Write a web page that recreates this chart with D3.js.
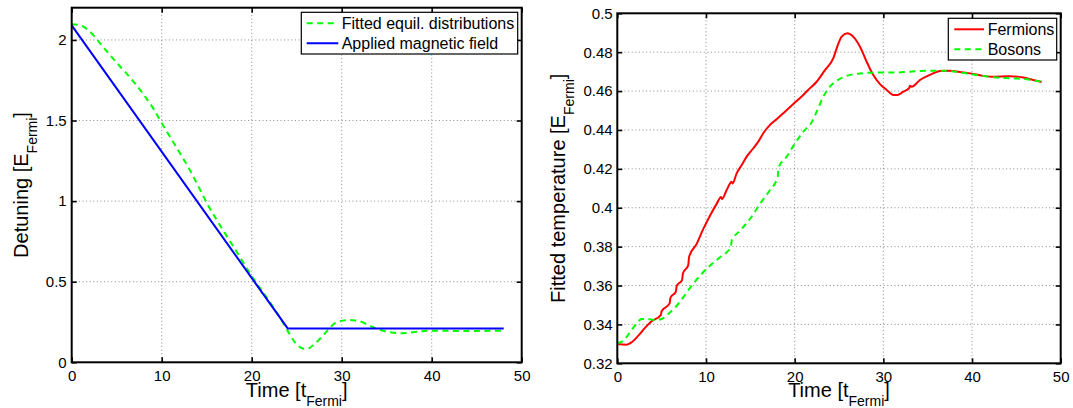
<!DOCTYPE html>
<html>
<head>
<meta charset="utf-8">
<script src="https://cdn.jsdelivr.net/npm/d3@7"></script>
<style>
  html, body { margin: 0; padding: 0; background: #fff; }
  svg { display: block; font-family: "Liberation Sans", Arial, Helvetica, sans-serif; }
</style>
</head>
<body>
<svg id="fig" width="1073" height="408"></svg>
<script>
// ---- Detuning panel -------------------------------------------------------
const fieldTime = [0, 24, 48];
const appliedField = [2.09, 0.21, 0.21];

const fitTime = [0, 1, 2, 3, 4, 5, 6, 7, 8, 9, 10, 11, 12, 13, 14, 15, 16, 17, 18, 19,
  20, 21, 22, 23, 24, 24.8, 25.5, 26.1, 27, 28, 28.7, 29.4, 30.7, 32, 33.1, 34.3,
  35.4, 36.5, 37.6, 38.7, 40.2, 44, 47.85];
const fitDetuning = [2.097, 2.09, 2.053, 1.99, 1.923, 1.858, 1.797, 1.732, 1.66, 1.58,
  1.485, 1.392, 1.3, 1.206, 1.1, 0.99, 0.893, 0.803, 0.715, 0.625,
  0.535, 0.455, 0.375, 0.29, 0.195, 0.124, 0.09, 0.082, 0.115, 0.17, 0.215, 0.248,
  0.262, 0.254, 0.227, 0.2, 0.186, 0.18, 0.184, 0.192, 0.196, 0.194, 0.196];

// ---- Temperature panel ----------------------------------------------------
const fermionTime = [0, 1.06, 1.62, 2.37, 3.12, 3.87, 4.9, 5.0, 5.9, 6.0, 6.6, 6.7, 7.3, 7.4,
  8.0, 8.1, 8.95, 9.7, 10.45, 11.2, 11.7, 11.8, 12.33, 12.9, 13.0, 13.46, 14.03, 14.59,
  15.34, 15.9, 16.46, 17.22, 17.97, 18.72, 19.85, 20.97, 21.73, 22.48, 23.42, 24.36,
  24.74, 25.3, 25.94, 26.6, 27.37, 28.12, 28.6, 28.87, 29.62, 30.38, 31.12, 31.57,
  32.25, 32.9, 33.0, 33.2, 34.13, 35.26, 36.39, 37.52, 38.64, 39.77, 40.9, 42.2,
  44.28, 45.78, 46.9, 47.85];
const fermionTemp = [0.3299, 0.3296, 0.3308, 0.3342, 0.3382, 0.3416, 0.3448, 0.3468,
  0.3508, 0.3538, 0.3568, 0.3598, 0.3628, 0.3662, 0.3705, 0.3748, 0.3814, 0.3891,
  0.3959, 0.402, 0.4055, 0.4045, 0.4091, 0.4134, 0.4125, 0.4177, 0.422, 0.4263,
  0.4306, 0.434, 0.4383, 0.4426, 0.4455, 0.4486, 0.4533, 0.458, 0.4615, 0.4648,
  0.4708, 0.4769, 0.482, 0.488, 0.4897, 0.488, 0.4828, 0.4751, 0.4705, 0.4683,
  0.4636, 0.4606, 0.458, 0.458, 0.4597, 0.4615, 0.4628, 0.4622, 0.4657, 0.4683,
  0.4703, 0.4705, 0.4698, 0.4691, 0.4681, 0.4674, 0.4676, 0.467, 0.4657, 0.4647];

const bosonTime = [0, 0.68, 1.43, 2.19, 2.75, 3.31, 4.25, 5.0, 5.75, 6.7, 7.45, 8.39,
  9.33, 10.45, 11.58, 12.52, 12.8, 12.9, 13.84, 14.96, 16.09, 17.22, 17.97, 18.1,
  18.16, 19.1, 20.04, 20.97, 21.92, 22.48, 23.23, 23.98, 24.74, 25.87, 27.37, 29.25,
  31.12, 33.0, 34.89, 36.76, 38.64, 40.53, 42.4, 44.28, 46.17, 47.85];
const bosonTemp = [0.3303, 0.3316, 0.3359, 0.3406, 0.3428, 0.3428, 0.3423, 0.3428,
  0.3454, 0.3496, 0.354, 0.3599, 0.3651, 0.3702, 0.3745, 0.3779, 0.3795, 0.3831,
  0.3882, 0.3942, 0.402, 0.4091, 0.4143, 0.416, 0.4203, 0.4263, 0.4331, 0.4391,
  0.444, 0.4494, 0.4571, 0.4623, 0.4653, 0.4678, 0.4691, 0.4695, 0.4695, 0.47,
  0.4705, 0.4705, 0.4697, 0.4683, 0.4671, 0.4666, 0.4661, 0.4648];

// ---- Axis ticks -----------------------------------------------------------
const timeTicks = [0, 10, 20, 30, 40, 50];
const detuningTicks = [0, 0.5, 1, 1.5, 2];
const tempTicks = [0.32, 0.34, 0.36, 0.38, 0.4, 0.42, 0.44, 0.46, 0.48, 0.5];

const GREEN = "#00ff00", BLUE = "#0000ff", RED = "#ff0000";
const DASH = "6,4.5";

const zip = (xs, ys) => xs.map((x, i) => ({ x, y: ys[i] }));

const panels = [
  {
    box: { left: 71.7, right: 521.7, top: 7.7, bottom: 362.3 },
    xDomain: [0, 50], yDomain: [0, 2.2],
    yTicks: detuningTicks, yFmt: d3.format("~g"), yPad: 5,
    ylabel: { main: "Detuning [E", sub: "Fermi", x: 28.3 },
    series: [
      { name: "Fitted equil. distributions", data: zip(fitTime, fitDetuning), color: GREEN, dash: DASH },
      { name: "Applied magnetic field", data: zip(fieldTime, appliedField), color: BLUE, dash: null, linear: true }
    ],
    legend: { left: 301.3, right: 517.7, top: 12.3, bottom: 54, rows: [23.3, 43.3], lx0: 306.7, lx1: 338.3, tx: 341.7 }
  },
  {
    box: { left: 617.3, right: 1060.7, top: 13.3, bottom: 363.3 },
    xDomain: [0, 50], yDomain: [0.32, 0.5],
    yTicks: tempTicks, yFmt: d3.format("~g"), yPad: 4.6,
    ylabel: { main: "Fitted temperature [E", sub: "Fermi", x: 565 },
    series: [
      { name: "Fermions", data: zip(fermionTime, fermionTemp), color: RED, dash: null },
      { name: "Bosons", data: zip(bosonTime, bosonTemp), color: GREEN, dash: DASH }
    ],
    legend: { left: 948.3, right: 1056.7, top: 18.3, bottom: 60, rows: [29.3, 49.3], lx0: 954.3, lx1: 984, tx: 987.7 }
  }
];

const svg = d3.select("#fig");

panels.forEach(p => {
  const b = p.box;
  const x = d3.scaleLinear().domain(p.xDomain).range([b.left, b.right]);
  const y = d3.scaleLinear().domain(p.yDomain).range([b.bottom, b.top]);
  const g = svg.append("g");

  // dotted grid at interior ticks
  const grid = g.append("g").attr("stroke", "#8a8a8a").attr("stroke-width", 1)
    .attr("stroke-dasharray", "1,2.6");
  timeTicks.filter(t => t > p.xDomain[0] && t < p.xDomain[1]).forEach(t => {
    grid.append("line").attr("x1", x(t)).attr("x2", x(t)).attr("y1", b.top).attr("y2", b.bottom);
  });
  p.yTicks.filter(t => t > p.yDomain[0] && t < p.yDomain[1]).forEach(t => {
    grid.append("line").attr("x1", b.left).attr("x2", b.right).attr("y1", y(t)).attr("y2", y(t));
  });

  // data curves
  p.series.forEach(s => {
    const line = d3.line().x(d => x(d.x)).y(d => y(d.y))
      .curve(s.linear ? d3.curveLinear : d3.curveMonotoneX);
    g.append("path").datum(s.data).attr("d", line)
      .attr("fill", "none").attr("stroke", s.color).attr("stroke-width", 2)
      .attr("stroke-linejoin", "round")
      .attr("stroke-dasharray", s.dash);
  });

  // axes with inward ticks on all sides
  const styleAxis = sel => {
    sel.select(".domain").remove();
    sel.selectAll(".tick line").attr("stroke", "#000").attr("stroke-width", 1.6);
    sel.selectAll(".tick text").attr("fill", "#000").attr("font-size", 15)
      .attr("font-family", "Liberation Sans, Arial, sans-serif");
  };
  g.append("g").attr("transform", `translate(0,${b.bottom})`)
    .call(d3.axisBottom(x).tickValues(timeTicks).tickFormat(d3.format("d")).tickSize(-5).tickPadding(8))
    .call(styleAxis);
  g.append("g").attr("transform", `translate(0,${b.top})`)
    .call(d3.axisTop(x).tickValues(timeTicks).tickFormat("").tickSize(-5))
    .call(styleAxis);
  g.append("g").attr("transform", `translate(${b.left},0)`)
    .call(d3.axisLeft(y).tickValues(p.yTicks).tickFormat(p.yFmt).tickSize(-5).tickPadding(p.yPad))
    .call(styleAxis);
  g.append("g").attr("transform", `translate(${b.right},0)`)
    .call(d3.axisRight(y).tickValues(p.yTicks).tickFormat("").tickSize(-5))
    .call(styleAxis);

  // frame
  g.append("rect").attr("x", b.left).attr("y", b.top)
    .attr("width", b.right - b.left).attr("height", b.bottom - b.top)
    .attr("fill", "none").attr("stroke", "#000").attr("stroke-width", 2);

  // x label with subscript
  const xl = g.append("text").attr("x", (b.left + b.right) / 2).attr("y", 396.5)
    .attr("text-anchor", "middle").attr("font-size", 20).attr("fill", "#000");
  xl.append("tspan").text("Time [t");
  xl.append("tspan").attr("font-size", 14).attr("dy", 9).text("Fermi");
  xl.append("tspan").attr("dy", -9).text("]");

  // y label with subscript
  const yc = (b.top + b.bottom) / 2;
  const yl = g.append("text").attr("transform", `translate(${p.ylabel.x},${yc}) rotate(-90)`)
    .attr("text-anchor", "middle").attr("font-size", 20).attr("fill", "#000");
  yl.append("tspan").text(p.ylabel.main);
  yl.append("tspan").attr("font-size", 14).attr("dy", 9).text(p.ylabel.sub);
  yl.append("tspan").attr("dy", -9).text("]");

  // legend
  const L = p.legend;
  const lg = g.append("g");
  lg.append("rect").attr("x", L.left).attr("y", L.top)
    .attr("width", L.right - L.left).attr("height", L.bottom - L.top)
    .attr("fill", "#fff").attr("stroke", "#000").attr("stroke-width", 1.2);
  p.series.forEach((s, i) => {
    const ry = L.rows[i];
    lg.append("line").attr("x1", L.lx0).attr("x2", L.lx1).attr("y1", ry).attr("y2", ry)
      .attr("stroke", s.color).attr("stroke-width", 2).attr("stroke-dasharray", s.dash);
    lg.append("text").attr("x", L.tx).attr("y", ry + 5.7).attr("font-size", 16)
      .attr("fill", "#000").text(s.name);
  });
});
</script>
</body>
</html>
